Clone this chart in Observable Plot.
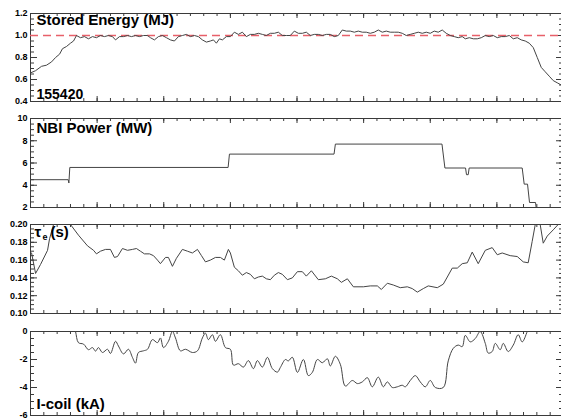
<!DOCTYPE html>
<html><head><meta charset="utf-8">
<script src="https://cdn.jsdelivr.net/npm/d3@7"></script>
<script src="https://cdn.jsdelivr.net/npm/@observablehq/plot@0.6"></script>
<style>
html,body{margin:0;padding:0;background:#fff;overflow:hidden;}
#chart svg{display:block;}
</style></head><body><div id="chart"></div>
<script>
// ---------- data (time in ms) ----------
const shotLabel = "155420";
const timeDomain = [1000, 5000];
const timeMajorTicks = [1000,1500,2000,2500,3000,3500,4000,4500,5000];

// Stored energy (MJ)
const energyT = [1000,1038,1083,1120,1158,1188,1218,1240,1270,1300,
  1323,1345,1375,1405,1435,1465,1495,1525,1555,1585,
  1615,1638,1668,1698,1728,1758,1788,1818,1848,1878,
  1900,1930,1960,1990,2020,2050,2080,2110,2140,2170,
  2200,2230,2260,2290,2320,2350,2373,2395,2418,2440,
  2470,2500,2530,2560,2590,2620,2650,2680,2710,2740,
  2770,2800,2830,2860,2890,2920,2950,2980,3010,3040,
  3070,3100,3130,3160,3190,3220,3250,3280,3310,3340,
  3370,3400,3430,3460,3490,3520,3550,3580,3610,3640,
  3670,3700,3730,3760,3790,3820,3850,3880,3910,3940,
  3970,4000,4030,4060,4090,4120,4150,4180,4210,4240,
  4263,4293,4323,4353,4383,4413,4443,4473,4503,4533,
  4563,4593,4623,4653,4683,4713,4743,4773,4803,4833,
  4863,4893,4923,4953,4983];
const energyV = [0.66,0.68,0.72,0.73,0.76,0.80,0.83,0.88,0.90,0.93,
  0.95,1.00,0.98,0.99,0.97,0.99,0.98,1.00,0.99,1.00,
  0.99,0.96,0.99,0.99,1.00,0.99,1.00,0.99,1.00,1.00,
  0.98,0.96,0.99,1.00,0.98,0.96,0.95,0.99,1.00,1.01,
  0.99,1.00,0.99,0.96,0.94,0.95,0.96,0.93,0.97,0.96,
  0.99,0.99,1.03,1.01,1.03,0.99,1.01,1.01,1.02,1.01,
  1.00,1.02,1.02,1.03,1.00,1.00,1.00,1.04,1.02,1.02,
  1.03,1.00,1.01,1.01,1.00,1.01,1.01,0.99,1.00,1.05,
  1.04,1.04,1.03,1.04,1.03,1.03,1.02,1.03,1.05,1.03,
  1.04,1.03,1.03,1.03,1.02,1.00,1.01,1.02,1.03,1.02,
  1.03,1.02,1.04,1.03,1.05,1.02,1.00,0.99,0.98,0.99,
  0.97,0.98,0.97,0.97,0.98,1.00,0.99,1.00,0.98,0.99,
  0.99,1.00,0.97,0.98,0.96,0.95,0.93,0.89,0.80,0.71,
  0.67,0.63,0.59,0.57,0.55];
const energyRef = [1.0];
const energyTicks = [0.4,0.6,0.8,1.0,1.2];

// NBI power (MW)
const nbiT = [1000,1283,1288,1295,2483,2493,3278,3288,4088,4110,4265,4272,4285,4292,4690,4705,4730,4745,4790,4800,4983];
const nbiV = [4.5,4.5,4.2,5.6,5.6,6.8,6.8,7.7,7.7,5.55,5.55,4.95,4.95,5.55,5.55,4.1,4.1,2.45,2.45,1.5,1.5];
const nbiTicks = [2,4,6,8,10];

// Energy confinement time tau_e (s)
const tauT = [1008,1038,1075,1128,1143,1173,1195,1278,1300,1360,
  1428,1473,1495,1525,1563,1600,1630,1653,1690,1728,
  1765,1795,1825,1855,1893,1923,1953,1975,2013,2035,
  2065,2095,2140,2178,2215,2253,2283,2313,2350,2388,
  2425,2455,2485,2500,2530,2560,2590,2620,2650,2680,
  2710,2740,2770,2800,2830,2860,2890,2928,2965,3003,
  3040,3070,3108,3160,3213,3258,3303,3333,3378,3423,
  3498,3550,3603,3633,3678,3723,3775,3828,3865,3903,
  3948,3985,4053,4098,4128,4165,4203,4240,4278,4315,
  4360,4413,4465,4503,4540,4600,4653,4698,4735,4765,
  4788,4803,4825,4848,4878,4923,4960,4983];
const tauV = [0.168,0.145,0.155,0.171,0.184,0.200,0.22,0.22,0.200,0.188,
  0.176,0.171,0.167,0.170,0.172,0.172,0.163,0.164,0.173,0.171,
  0.172,0.173,0.170,0.167,0.167,0.165,0.160,0.156,0.163,0.163,
  0.153,0.162,0.172,0.170,0.168,0.172,0.165,0.158,0.160,0.163,
  0.163,0.160,0.172,0.168,0.152,0.148,0.143,0.146,0.144,0.139,
  0.141,0.142,0.139,0.138,0.143,0.146,0.144,0.138,0.140,0.147,
  0.147,0.142,0.148,0.138,0.139,0.142,0.139,0.135,0.139,0.130,
  0.130,0.131,0.131,0.127,0.134,0.132,0.129,0.130,0.128,0.124,
  0.128,0.131,0.129,0.133,0.141,0.151,0.151,0.156,0.157,0.169,
  0.156,0.171,0.174,0.166,0.168,0.165,0.164,0.158,0.157,0.181,
  0.200,0.21,0.200,0.179,0.187,0.194,0.200,0.205];
const tauTicks = [0.10,0.12,0.14,0.16,0.18,0.20];

// I-coil current (kA)
const icoilT = [1000,1323,1338,1360,1398,1435,1465,1488,1510,1540,
  1578,1600,1638,1660,1698,1735,1765,1788,1810,1848,
  1878,1915,1953,1975,1998,2035,2065,2088,2125,2163,
  2215,2253,2290,2313,2335,2365,2388,2425,2463,2500,
  2523,2560,2598,2635,2673,2703,2740,2778,2815,2853,
  2875,2913,2935,2965,3003,3048,3085,3115,3153,3190,
  3228,3250,3288,3325,3363,3415,3453,3490,3528,3565,
  3610,3648,3678,3715,3753,3790,3813,3850,3888,3925,
  3963,4000,4038,4098,4135,4173,4210,4240,4263,4300,
  4338,4375,4413,4435,4465,4488,4525,4548,4585,4623,
  4660,4690,4728,4750,4983];
const icoilV = [0.5,0.5,0.0,-0.8,-0.9,-1.3,-1.15,-1.4,-1.15,-1.5,
  -1.27,-1.57,-0.7,-1.04,-1.6,-1.27,-1.85,-2.26,-1.5,-1.38,
  -1.27,-0.58,-0.8,-0.46,-1.15,-0.7,0.0,-0.46,-1.38,-1.27,
  -1.5,-1.38,-0.46,-0.12,-0.58,-0.23,-0.7,-0.23,-1.15,-1.27,
  -2.4,-2.3,-2.54,-2.08,-2.65,-2.08,-2.54,-1.85,-2.65,-2.9,
  -2.57,-2.0,-2.1,-1.84,-2.92,-2.0,-3.15,-2.92,-2.0,-2.23,
  -1.95,-2.46,-1.77,-2.34,-3.9,-3.5,-3.72,-3.6,-3.3,-3.95,
  -3.26,-3.95,-3.6,-4.0,-3.95,-3.84,-3.95,-3.5,-3.15,-3.6,
  -3.95,-3.5,-4.0,-4.0,-2.1,-1.2,-0.97,-1.08,-0.28,-0.74,
  -0.5,0.0,-0.85,-1.54,-1.43,-0.85,-1.3,-0.85,-1.43,-0.97,
  -0.23,-0.74,0.0,0.5,0.5];
const icoilTicks = [-6,-4,-2,0];

// ---------- layout ----------
const W = 561, ML = 30;
const FONT = "'Liberation Sans', Arial, Helvetica, sans-serif";
const INK = "#3a3a3a";

const panels = [
  {t: energyT, v: energyV, domain: [0.4, 1.2], ticks: energyTicks, minor: 0.05, fmt: d => d.toFixed(1),
   height: 106, mt: 13, mb: 5, curve: "linear",
   labels: [
     {text: "Stored Energy (MJ)", anchor: "top-left", dx: 6, dy: 1, size: 15},
     {text: shotLabel, anchor: "bottom-left", dx: 6, dy: -3, size: 14}
   ], ref: energyRef},
  {t: nbiT, v: nbiV, domain: [2, 10], ticks: nbiTicks, minor: 0.5, fmt: d => String(d),
   height: 106, mt: 12, mb: 5, curve: "linear",
   labels: [{text: "NBI Power (MW)", anchor: "top-left", dx: 6, dy: 4, size: 15}]},
  {t: tauT, v: tauV, domain: [0.10, 0.20], ticks: tauTicks, minor: 0.005, fmt: d => d.toFixed(2),
   height: 106, mt: 12, mb: 5, curve: "linear",
   labels: [
     {text: "τ", anchor: "top-left", dx: 4, dy: 2, size: 15},
     {text: "e", anchor: "top-left", dx: 12, dy: 9, size: 9},
     {text: "(s)", anchor: "top-left", dx: 20, dy: 2, size: 15}
   ]},
  {t: icoilT, v: icoilV, domain: [-6, 0], ticks: icoilTicks, minor: 0.5, fmt: d => String(d),
   height: 102, mt: 13, mb: 5, curve: "catmull-rom",
   labels: [{text: "I-coil (kA)", anchor: "bottom-left", dx: 6, dy: -7, size: 15}]}
];

function steps(lo, hi, step) {
  const n = Math.round((hi - lo) / step);
  return d3.range(n + 1).map(i => +(lo + i * step).toFixed(6));
}
const timeMinor = steps(timeDomain[0], timeDomain[1], 100);

const root = document.getElementById("chart");
for (const p of panels) {
  const H = p.height - p.mt - p.mb;
  const AW = W - ML;
  const data = p.t.map((t, i) => ({t, v: p.v[i]}));
  const minor = steps(p.domain[0], p.domain[1], p.minor);
  const marks = [
    Plot.ruleX([timeDomain[0]], {stroke: INK}),
    Plot.ruleY([p.domain[0], p.domain[1]], {stroke: INK}),
    // left ticks (inward)
    Plot.tickY(p.ticks, {y: d => d, insetRight: AW - 7, stroke: INK}),
    Plot.tickY(minor, {y: d => d, insetRight: AW - 4, stroke: INK}),
    // right ticks (frame lies just beyond the page)
    Plot.tickY(p.ticks, {y: d => d, insetLeft: AW - 5, stroke: INK}),
    Plot.tickY(minor, {y: d => d, insetLeft: AW - 2, stroke: INK}),
    // top & bottom ticks
    Plot.tickX(timeMajorTicks, {x: d => d, insetBottom: H - 5, stroke: INK}),
    Plot.tickX(timeMinor, {x: d => d, insetBottom: H - 3, stroke: INK}),
    Plot.tickX(timeMajorTicks, {x: d => d, insetTop: H - 5, stroke: INK}),
    Plot.tickX(timeMinor, {x: d => d, insetTop: H - 3, stroke: INK}),
    Plot.axisY(p.ticks, {anchor: "left", tickSize: 0, tickPadding: 3, tickFormat: p.fmt, label: null,
      fontWeight: "bold", fontSize: 9, fill: "#000"})
  ];
  if (p.ref) marks.push(Plot.ruleY(p.ref, {stroke: "#e8606a", strokeWidth: 1.3, strokeDasharray: "8,5"}));
  marks.push(Plot.line(data, {x: "t", y: "v", stroke: "#444", strokeWidth: 1, clip: true, curve: p.curve}));
  for (const l of p.labels) {
    marks.push(Plot.text([l.text], {text: d => d, frameAnchor: l.anchor, dx: l.dx, dy: l.dy,
      textAnchor: "start", lineAnchor: l.anchor.startsWith("top") ? "top" : "bottom",
      fontSize: l.size, fontWeight: "bold", fill: "#000", ariaLabel: "panel-label"}));
  }
  const svg = Plot.plot({
    width: W, height: p.height,
    marginLeft: ML, marginRight: 0, marginTop: p.mt, marginBottom: p.mb,
    style: {fontFamily: FONT, background: "#fff", overflow: "visible"},
    x: {domain: timeDomain, range: [ML, 563], axis: null},
    y: {domain: p.domain, axis: null},
    marks
  });
  root.appendChild(svg);
  d3.select(svg).selectAll('g[aria-label="panel-label"] text').each(function () {
    const len = this.getComputedTextLength();
    this.setAttribute("textLength", (len * 0.88).toFixed(1));
    this.setAttribute("lengthAdjust", "spacingAndGlyphs");
  });
}
</script></body></html>
